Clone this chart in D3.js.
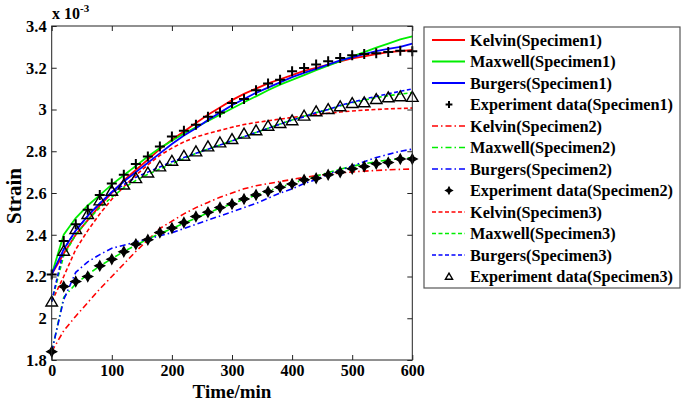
<!DOCTYPE html>
<html><head><meta charset="utf-8">
<script src="https://cdn.jsdelivr.net/npm/d3@7/dist/d3.min.js"></script>
<style>
body{margin:0;background:#fff}
text{font-family:"Liberation Serif","Times New Roman",serif;font-weight:bold;fill:#000}
</style>
</head><body>
<svg id="c" width="682" height="402"></svg>
<script>
// ---- data (strain x 10^-3, time in min) ----
const time = [0,20,40,60,80,100,120,140,160,180,200,220,240,260,280,300,320,340,360,380,400,420,440,460,480,500,520,540,560,580,600];

const kelvin1  = [2.21,2.31,2.40,2.47,2.54,2.60,2.66,2.71,2.76,2.81,2.855,2.895,2.935,2.975,3.01,3.045,3.075,3.10,3.125,3.145,3.165,3.185,3.20,3.215,3.23,3.245,3.255,3.265,3.275,3.28,3.285];
const maxwell1 = [2.21,2.40,2.48,2.54,2.59,2.64,2.685,2.73,2.775,2.815,2.85,2.885,2.915,2.945,2.975,3.005,3.035,3.063,3.092,3.119,3.142,3.165,3.188,3.21,3.232,3.254,3.275,3.296,3.316,3.336,3.35];
const burgers1 = [2.21,2.33,2.42,2.49,2.55,2.605,2.655,2.70,2.745,2.79,2.835,2.875,2.91,2.95,2.985,3.02,3.05,3.08,3.105,3.13,3.155,3.175,3.195,3.215,3.235,3.25,3.265,3.28,3.29,3.30,3.315];
const exp1     = [2.21,2.37,2.45,2.52,2.59,2.645,2.687,2.739,2.775,2.823,2.871,2.898,2.927,2.965,2.986,3.031,3.05,3.092,3.124,3.143,3.183,3.199,3.215,3.231,3.247,3.26,3.266,3.27,3.275,3.282,3.279];

const kelvin2  = [1.84,1.94,2.01,2.075,2.14,2.20,2.26,2.32,2.375,2.43,2.465,2.50,2.53,2.555,2.58,2.60,2.62,2.635,2.645,2.655,2.665,2.675,2.683,2.69,2.696,2.701,2.705,2.708,2.711,2.713,2.715];
const maxwell2 = [1.84,2.10,2.165,2.21,2.25,2.285,2.32,2.35,2.38,2.405,2.43,2.455,2.48,2.505,2.527,2.548,2.57,2.59,2.61,2.628,2.646,2.664,2.681,2.698,2.714,2.728,2.74,2.75,2.758,2.765,2.77];
const burgers2 = [1.84,2.09,2.22,2.27,2.305,2.335,2.35,2.365,2.38,2.395,2.41,2.43,2.45,2.47,2.49,2.51,2.53,2.55,2.575,2.60,2.62,2.645,2.665,2.69,2.71,2.73,2.75,2.77,2.785,2.80,2.81];
const exp2     = [1.84,2.152,2.176,2.20,2.251,2.283,2.319,2.355,2.376,2.411,2.432,2.459,2.487,2.508,2.53,2.547,2.571,2.591,2.607,2.628,2.643,2.663,2.671,2.687,2.70,2.716,2.727,2.74,2.746,2.763,2.763];

const kelvin3  = [2.08,2.20,2.33,2.42,2.50,2.57,2.63,2.685,2.735,2.78,2.815,2.845,2.868,2.885,2.90,2.915,2.928,2.938,2.946,2.954,2.962,2.969,2.976,2.982,2.988,2.993,2.997,3.0,3.003,3.005,3.007];
const maxwell3 = [2.08,2.30,2.40,2.47,2.53,2.58,2.625,2.66,2.69,2.715,2.74,2.765,2.79,2.81,2.83,2.85,2.87,2.89,2.91,2.93,2.95,2.968,2.985,3.0,3.017,3.032,3.045,3.057,3.066,3.074,3.08];
const burgers3 = [2.08,2.33,2.42,2.49,2.55,2.60,2.64,2.675,2.70,2.725,2.75,2.77,2.79,2.81,2.83,2.85,2.87,2.89,2.91,2.93,2.95,2.965,2.985,3.0,3.02,3.035,3.05,3.063,3.075,3.087,3.098];
const exp3     = [2.08,2.323,2.427,2.499,2.564,2.61,2.64,2.671,2.698,2.727,2.754,2.778,2.799,2.823,2.842,2.858,2.884,2.90,2.922,2.935,2.948,2.97,2.991,3.002,3.015,3.031,3.034,3.05,3.058,3.063,3.06];

const xTicks = [0,100,200,300,400,500,600];
const yTicks = [1.8,2.0,2.2,2.4,2.6,2.8,3.0,3.2,3.4];
const legendLabels = ["Kelvin(Specimen1)","Maxwell(Specimen1)","Burgers(Specimen1)","Experiment data(Specimen1)",
  "Kelvin(Specimen2)","Maxwell(Specimen2)","Burgers(Specimen2)","Experiment data(Specimen2)",
  "Kelvin(Specimen3)","Maxwell(Specimen3)","Burgers(Specimen3)","Experiment data(Specimen3)"];

// ---- series styling ----
const RED="#ff0000", GREEN="#00ee00", BLUE="#0000ff";
const DASHDOT="6,3,1.5,3", DASH="4,2.5";
const series = [
  {type:"line", v:kelvin1,  c:RED,   d:null,    w:1.8},
  {type:"line", v:maxwell1, c:GREEN, d:null,    w:1.8},
  {type:"line", v:burgers1, c:BLUE,  d:null,    w:1.8},
  {type:"mark", v:exp1,     m:"plus"},
  {type:"line", v:kelvin2,  c:RED,   d:DASHDOT, w:1.6},
  {type:"line", v:maxwell2, c:GREEN, d:DASHDOT, w:1.6},
  {type:"line", v:burgers2, c:BLUE,  d:DASHDOT, w:1.6},
  {type:"mark", v:exp2,     m:"star"},
  {type:"line", v:kelvin3,  c:RED,   d:DASH,    w:1.6},
  {type:"line", v:maxwell3, c:GREEN, d:DASH,    w:1.6},
  {type:"line", v:burgers3, c:BLUE,  d:DASH,    w:1.6},
  {type:"mark", v:exp3,     m:"tri"}
];

const svg = d3.select("#c");
const X0=51.7, X1=412.3, Y0=360, Y1=26;
const x = d3.scaleLinear().domain([0,600]).range([X0,X1]);
const y = d3.scaleLinear().domain([1.8,3.4]).range([Y0,Y1]);

function markerPath(m, s){
  if(m==="plus") return `M${-s},0H${s}M0,${-s}V${s}`;
  if(m==="star"){const a=s*0.35; return `M0,${-s}L${a},${-a}L${s},0L${a},${a}L0,${s}L${-a},${a}L${-s},0L${-a},${-a}Z`;}
  return `M0,${-s}L${s*1.05},${s*0.8}L${-s*1.05},${s*0.8}Z`;
}
function styleMarker(sel, m){
  if(m==="plus") sel.attr("fill","none").attr("stroke","#000").attr("stroke-width",2);
  else if(m==="star") sel.attr("fill","#000").attr("stroke","#000").attr("stroke-width",1.2);
  else sel.attr("fill","none").attr("stroke","#000").attr("stroke-width",1.4);
}

// ---- axes ----
const gx = svg.append("g").attr("transform",`translate(0,${Y0})`)
  .call(d3.axisBottom(x).tickValues(xTicks).tickSizeInner(-5).tickSizeOuter(0).tickPadding(5).tickFormat(d3.format("d")));
const gxt = svg.append("g").attr("transform",`translate(0,${Y1})`)
  .call(d3.axisTop(x).tickValues(xTicks).tickSizeInner(-5).tickSizeOuter(0).tickFormat(""));
const gy = svg.append("g").attr("transform",`translate(${X0},0)`)
  .call(d3.axisLeft(y).tickValues(yTicks).tickSizeInner(-5).tickSizeOuter(0).tickPadding(5).tickFormat(d=>String(+d.toFixed(1))));
const gyr = svg.append("g").attr("transform",`translate(${X1},0)`)
  .call(d3.axisRight(y).tickValues(yTicks).tickSizeInner(-5).tickSizeOuter(0).tickFormat(""));
[gx,gxt,gy,gyr].forEach(g=>{
  g.select(".domain").remove();
  g.selectAll("line").attr("stroke","#222");
  g.selectAll("text").attr("font-size",16.5).attr("font-family","'Liberation Serif',serif").attr("font-weight","bold").attr("fill","#000");
});
gx.selectAll("text").attr("font-size",16).attr("dy","0.71em");

// ---- plot lines & markers ----
const line = d3.line().x((d,i)=>x(time[i])).y(d=>y(d));
const plot = svg.append("g");
series.forEach(s=>{
  if(s.type==="line"){
    plot.append("path").attr("d",line(s.v)).attr("fill","none")
      .attr("stroke",s.c).attr("stroke-width",s.w).attr("stroke-dasharray",s.d);
  } else {
    plot.selectAll(null).data(s.v).join("path")
      .attr("transform",(d,i)=>`translate(${x(time[i])},${y(d)})`)
      .attr("d",markerPath(s.m,s.m==="tri"?5.5:5))
      .call(styleMarker,s.m);
  }
});

// box
svg.append("rect").attr("x",X0).attr("y",Y1).attr("width",X1-X0).attr("height",Y0-Y1)
  .attr("fill","none").attr("stroke","#222").attr("stroke-width",1);

// exponent label
const ex = svg.append("text").attr("x",52).attr("y",19).attr("font-size",16);
ex.append("tspan").text("x 10");
ex.append("tspan").attr("dy",-7).attr("font-size",11).text("-3");

// axis titles
svg.append("text").attr("x",(X0+X1)/2).attr("y",397.5).attr("text-anchor","middle").attr("font-size",19).text("Time/min");
svg.append("text").attr("transform","translate(21,196) rotate(-90)").attr("text-anchor","middle").attr("font-size",21).text("Strain");

// ---- legend ----
const LX=424, LY=27, LW=256, LH=261, rowH=21.5, firstY=40;
svg.append("rect").attr("x",LX).attr("y",LY).attr("width",LW).attr("height",LH)
  .attr("fill","#fff").attr("stroke","#555").attr("stroke-width",1.2);
series.forEach((s,i)=>{
  const yy = firstY + i*rowH;
  if(s.type==="line"){
    svg.append("line").attr("x1",432).attr("x2",465).attr("y1",yy).attr("y2",yy)
      .attr("stroke",s.c).attr("stroke-width",s.w).attr("stroke-dasharray",s.d);
  } else {
    svg.append("path").attr("transform",`translate(449,${yy})`).attr("d",markerPath(s.m,3.4)).call(styleMarker,s.m);
  }
  svg.append("text").attr("x",470).attr("y",yy).attr("dy","0.35em").attr("font-size",16.3).text(legendLabels[i]);
});
</script>
</body></html>
